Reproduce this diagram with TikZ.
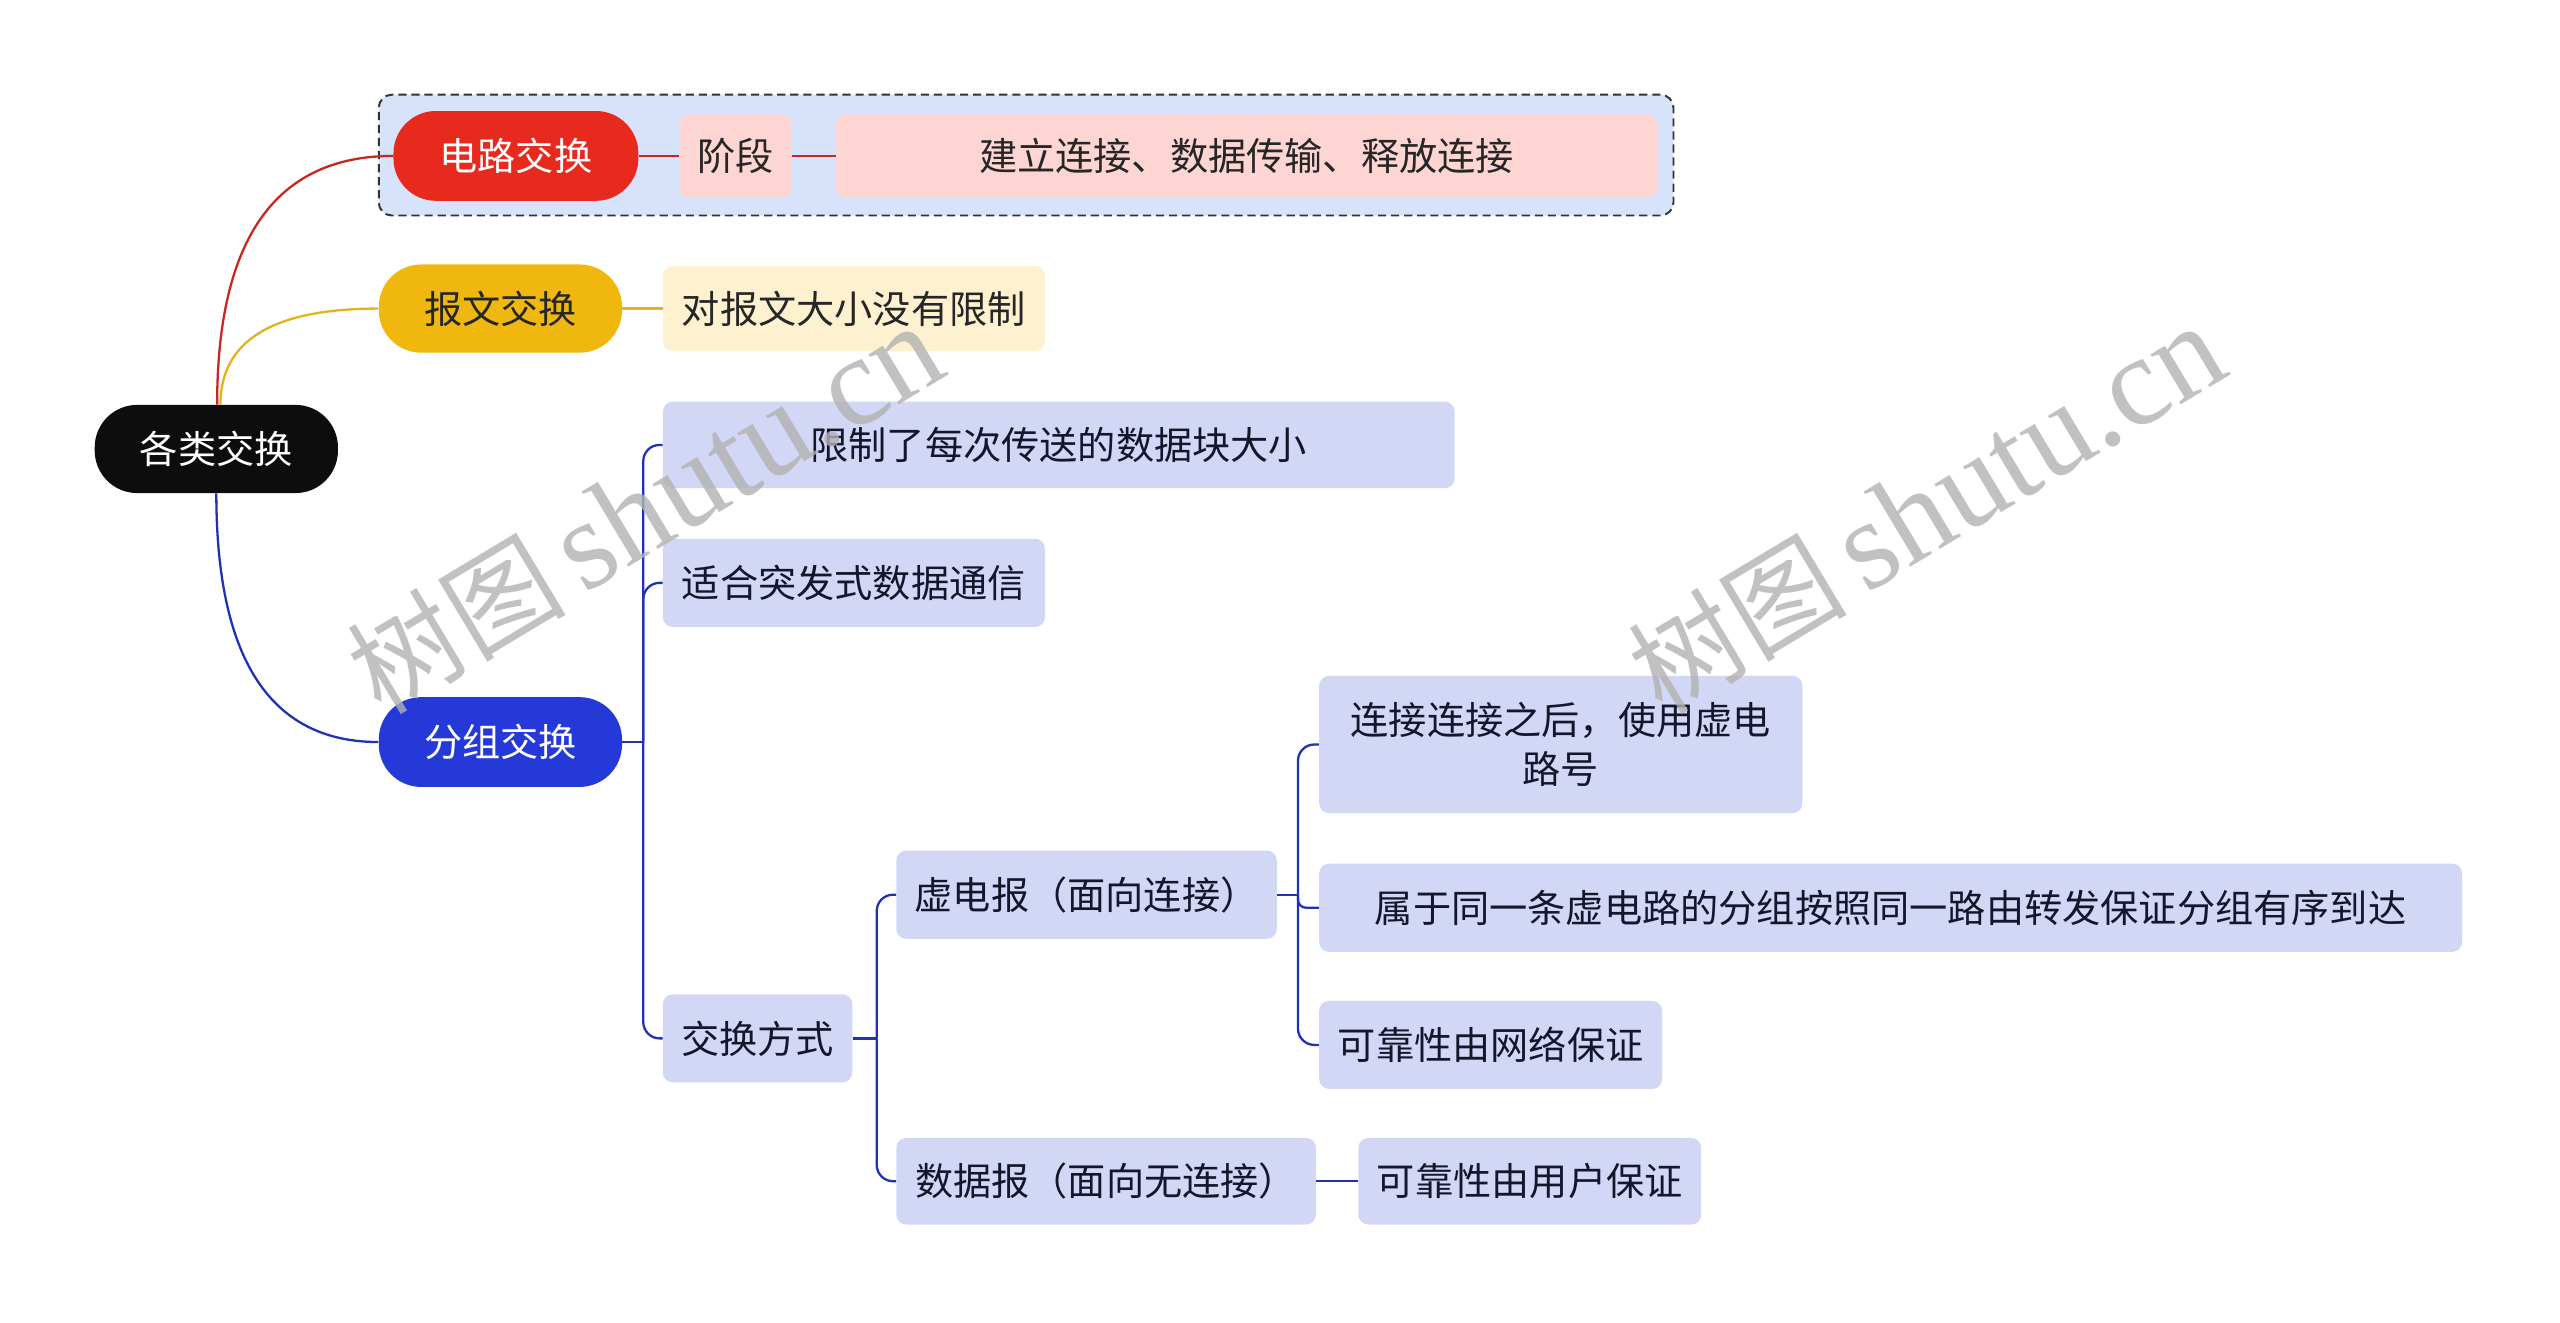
\documentclass[tikz,border=0pt]{standalone}
\usepackage{fontspec}
\usetikzlibrary{calc}
\newfontfamily\cjk{Noto Sans CJK SC}
\newfontfamily\wmserif{Liberation Serif}
\definecolor{rootc}{HTML}{0D0D0D}
\definecolor{redc}{HTML}{E8291D}
\definecolor{pinkc}{HTML}{FDD6D4}
\definecolor{grpc}{HTML}{D6E3FB}
\definecolor{yelc}{HTML}{F0B70F}
\definecolor{lyelc}{HTML}{FDF1CF}
\definecolor{bluec}{HTML}{2439D8}
\definecolor{lavc}{HTML}{D3D7F6}
\definecolor{txtc}{HTML}{15162C}
\definecolor{redl}{HTML}{C9271D}
\definecolor{yell}{HTML}{E5B219}
\definecolor{bluel}{HTML}{1E32B2}
\tikzset{
  box/.style={rectangle, inner sep=0pt, font=\cjk\fontsize{23.4}{30}\selectfont, align=center},
  pill/.style={box, rounded corners=26pt},
  leaf/.style={box, rounded corners=6pt, text=txtc},
  conn/.style={line width=1.4pt},
  wm/.style={rotate=31, text=black!30, opacity=0.8, inner sep=0pt}
}
\begin{document}
\begin{tikzpicture}[x=1pt,y=-1pt]
\useasboundingbox (0,0) rectangle (1568,810);
\fill[white] (0,0) rectangle (1568,810);
% group frame
\node[draw=black!80, fill=grpc, dash pattern=on 5pt off 3pt, line width=1.2pt, rounded corners=8pt, minimum width=793pt, minimum height=74pt, inner sep=0pt] (grp) at (628.5,95) {};
% nodes
\node[pill, fill=rootc, text=white, minimum width=149pt, minimum height=54pt] (root) at (132.5,275) {各类交换};
\node[pill, fill=redc, text=white, minimum width=150pt, minimum height=55pt] (c1) at (316,95.5) {电路交换};
\node[leaf, fill=pinkc, text=black!85, minimum width=69pt, minimum height=51pt] (c1a) at (450.5,95.5) {阶段};
\node[leaf, fill=pinkc, text=black!85, minimum width=503pt, minimum height=51pt] (c1b) at (763.5,95.5) {建立连接、数据传输、释放连接};
\node[pill, fill=yelc, text=black!85, minimum width=149pt, minimum height=54pt] (c2) at (306.5,189) {报文交换};
\node[leaf, fill=lyelc, text=black!85, minimum width=234pt, minimum height=52pt] (c2a) at (523,189) {对报文大小没有限制};
\node[pill, fill=bluec, text=white, minimum width=149pt, minimum height=55pt] (c3) at (306.5,454.5) {分组交换};
\node[leaf, fill=lavc, minimum width=485pt, minimum height=53pt] (d1) at (648.5,272.5) {限制了每次传送的数据块大小};
\node[leaf, fill=lavc, minimum width=234pt, minimum height=54pt] (d2) at (523,357) {适合突发式数据通信};
\node[leaf, fill=lavc, minimum width=116pt, minimum height=54pt] (d3) at (464,636) {交换方式};
\node[leaf, fill=lavc, minimum width=233pt, minimum height=54pt] (e1) at (665.5,548) {虚电报（面向连接）};
\node[leaf, fill=lavc, minimum width=257pt, minimum height=53pt] (e2) at (677.5,723.5) {数据报（面向无连接）};
\node[leaf, fill=lavc, minimum width=296pt, minimum height=84pt] (f1) at (956,456) {连接连接之后，使用虚电\\路号};
\node[leaf, fill=lavc, minimum width=700pt, minimum height=54pt] (f2) at (1158,556) {属于同一条虚电路的分组按照同一路由转发保证分组有序到达};
\node[leaf, fill=lavc, minimum width=210pt, minimum height=54pt] (f3) at (913,640) {可靠性由网络保证};
\node[leaf, fill=lavc, minimum width=210pt, minimum height=53pt] (g1) at (937,723.5) {可靠性由用户保证};
% junctions
\coordinate (j3) at (394,454.5);
\coordinate (jd3) at (537,636);
\coordinate (je1) at (795,548);
\coordinate (rt) at ([xshift=0.5pt]root.north);
\coordinate (ry) at ([xshift=2.5pt]root.north);
\coordinate (rb) at (root.south);
% connectors (quadratic curves as cubics)
\draw[conn, redl] (rt) .. controls ($(rt)!0.667!(rt |- c1.west)$) and ($(c1.west)!0.667!(rt |- c1.west)$) .. (c1.west);
\draw[conn, yell] (ry) .. controls ($(ry)!0.667!(ry |- c2.west)$) and ($(c2.west)!0.667!(ry |- c2.west)$) .. (c2.west);
\draw[conn, bluel] (rb) .. controls ($(rb)!0.667!(rb |- c3.west)$) and ($(c3.west)!0.667!(rb |- c3.west)$) .. (c3.west);
\draw[conn, redl] (c1.east) -- (c1a.west);
\draw[conn, redl] (c1a.east) -- (c1b.west);
\draw[conn, yell] (c2.east) -- (c2a.west);
\draw[conn, bluel] (c3.east) -- (j3);
\draw[conn, bluel, rounded corners=10pt] (j3) |- (d1.west);
\draw[conn, bluel, rounded corners=10pt] (j3) |- (d2.west);
\draw[conn, bluel, rounded corners=10pt] (j3) |- (d3.west);
\draw[conn, bluel] (d3.east) -- (jd3);
\draw[conn, bluel, rounded corners=10pt] (jd3) |- (e1.west);
\draw[conn, bluel, rounded corners=10pt] (jd3) |- (e2.west);
\draw[conn, bluel] (e1.east) -- (je1);
\draw[conn, bluel, rounded corners=10pt] (je1) |- (f1.west);
\draw[conn, bluel, rounded corners=5pt] (je1) |- (f2.west);
\draw[conn, bluel, rounded corners=10pt] (je1) |- (f3.west);
\draw[conn, bluel] (e2.east) -- (g1.west);
% watermarks
\node[wm] (wm1) at (395,312) {\cjk\fontsize{67}{67}\selectfont 树图\,\wmserif\fontsize{78}{78}\selectfont shutu.cn};
\node[wm] (wm2) at (1180,312) {\cjk\fontsize{67}{67}\selectfont 树图\,\wmserif\fontsize{78}{78}\selectfont shutu.cn};
\end{tikzpicture}
\end{document}
